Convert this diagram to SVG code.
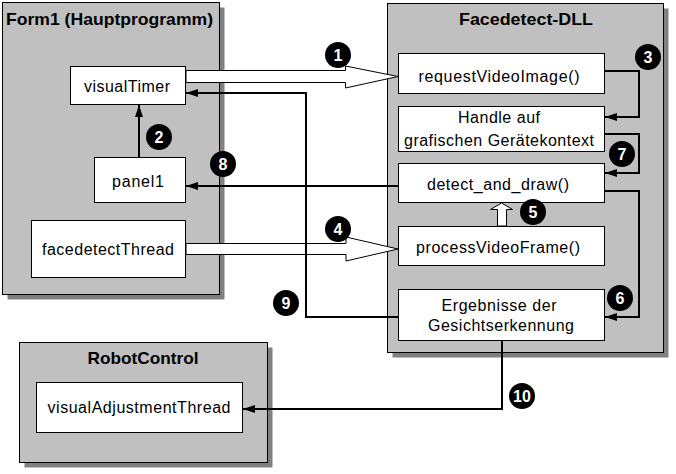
<svg xmlns="http://www.w3.org/2000/svg" width="676" height="474" viewBox="0 0 676 474">
<defs>
<marker id="ah" viewBox="0 0 12 8" refX="12" refY="4" markerWidth="12" markerHeight="8" markerUnits="userSpaceOnUse" orient="auto">
<polygon points="0,0 12,4 0,8" fill="#000"/>
</marker>
</defs>
<style>
.shadow{fill:#808080}
.cont{fill:#c0c0c0;stroke:#000;stroke-width:1}
.box{fill:#fff;stroke:#000;stroke-width:1}
.title{font-family:"Liberation Sans",Arial,sans-serif;font-size:17px;font-weight:bold;fill:#000}
.lbl{font-family:"Liberation Sans",Arial,sans-serif;font-size:16px;fill:#000;text-anchor:middle}
.conn{fill:none;stroke:#000;stroke-width:2;marker-end:url(#ah)}
.hollow{fill:#fff;stroke:#000;stroke-width:1}
.badge circle{fill:#000}
.badge text{font-family:"Liberation Sans",Arial,sans-serif;font-size:16px;font-weight:bold;fill:#fff;text-anchor:middle}
</style>
<rect width="676" height="474" fill="#fff"/>
<g id="form1">
<rect class="shadow" x="7.5" y="7.5" width="217" height="292"/>
<rect class="cont" x="2.5" y="2.5" width="217" height="292"/>
<text class="title" x="6" y="25" textLength="207" lengthAdjust="spacingAndGlyphs">Form1 (Hauptprogramm)</text>
</g>
<g id="visualTimer">
<rect class="box" x="70.5" y="66.5" width="115" height="38"/>
<text class="lbl" x="127" y="92" textLength="86" lengthAdjust="spacing">visualTimer</text>
</g>
<g id="panel1">
<rect class="box" x="94.5" y="157.5" width="91" height="45"/>
<text class="lbl" x="138" y="187" textLength="52" lengthAdjust="spacing">panel1</text>
</g>
<g id="facedetectThread">
<rect class="box" x="31.5" y="220.5" width="154" height="57"/>
<text class="lbl" x="108" y="255" textLength="132" lengthAdjust="spacing">facedetectThread</text>
</g>
<g id="facedetectDLL">
<rect class="shadow" x="392.5" y="8.5" width="276" height="349"/>
<rect class="cont" x="387.5" y="3.5" width="276" height="349"/>
<text class="title" x="526" y="25" text-anchor="middle" textLength="134" lengthAdjust="spacingAndGlyphs">Facedetect-DLL</text>
</g>
<g id="requestVideoImage">
<rect class="box" x="398.5" y="53.5" width="206" height="40"/>
<text class="lbl" x="499" y="82" textLength="161" lengthAdjust="spacing">requestVideoImage()</text>
</g>
<g id="handle">
<rect class="box" x="398.5" y="106.5" width="206" height="45"/>
<text class="lbl" x="499" y="123" textLength="82" lengthAdjust="spacing">Handle auf</text>
<text class="lbl" x="499" y="146" textLength="190" lengthAdjust="spacing">grafischen Gerätekontext</text>
</g>
<g id="detect_and_draw">
<rect class="box" x="398.5" y="163.5" width="206" height="39"/>
<text class="lbl" x="498" y="190" textLength="142" lengthAdjust="spacing">detect_and_draw()</text>
</g>
<g id="processVideoFrame">
<rect class="box" x="398.5" y="226.5" width="206" height="39"/>
<text class="lbl" x="498" y="253" textLength="164" lengthAdjust="spacing">processVideoFrame()</text>
</g>
<g id="ergebnisse">
<rect class="box" x="398.5" y="289.5" width="206" height="51"/>
<text class="lbl" x="499" y="311" textLength="115" lengthAdjust="spacing">Ergebnisse der</text>
<text class="lbl" x="501" y="331" textLength="146" lengthAdjust="spacing">Gesichtserkennung</text>
</g>
<g id="robotControl">
<rect class="shadow" x="24.5" y="347.5" width="248" height="120"/>
<rect class="cont" x="19.5" y="342.5" width="248" height="120"/>
<text class="title" x="143" y="364" text-anchor="middle" textLength="111" lengthAdjust="spacingAndGlyphs">RobotControl</text>
</g>
<g id="visualAdjustmentThread">
<rect class="box" x="36.5" y="382.5" width="206" height="50"/>
<text class="lbl" x="139" y="413" textLength="183" lengthAdjust="spacing">visualAdjustmentThread</text>
</g>
<g id="connectors">
<polygon class="hollow" points="186,70.5 345.5,70.5 345.5,66 398,76.5 345.5,88 345.5,82.5 186,82.5"/>
<polygon class="hollow" points="186,243.5 346,243.5 346,237 398,249 346,261 346,254.5 186,254.5"/>
<polygon class="hollow" points="497.5,226 497.5,209.5 490.5,209.5 501.5,203 512.5,209.5 506.5,209.5 506.5,226"/>
<path class="conn" d="M139,157 V105"/>
<path class="conn" d="M605,71 H639 V117 H605"/>
<path class="conn" d="M605,134 H639 V173 H605"/>
<path class="conn" d="M605,191 H639 V317 H605"/>
<path class="conn" d="M398,186 H186"/>
<path class="conn" d="M398,317 H306 V93 H186"/>
<path class="conn" d="M502,341 V409 H243"/>
</g>
<g id="badges" class="badge">
<circle cx="338" cy="55" r="13"/><text x="338" y="61">1</text>
<circle cx="159" cy="137" r="13"/><text x="159" y="143">2</text>
<circle cx="648" cy="57" r="13"/><text x="648" y="63">3</text>
<circle cx="338" cy="229" r="13"/><text x="338" y="235">4</text>
<circle cx="533" cy="212" r="13"/><text x="533" y="218">5</text>
<circle cx="620" cy="298" r="13"/><text x="620" y="304">6</text>
<circle cx="622" cy="154" r="13"/><text x="622" y="160">7</text>
<circle cx="223" cy="164" r="13"/><text x="223" y="170">8</text>
<circle cx="286" cy="303" r="13"/><text x="286" y="309">9</text>
<circle cx="522" cy="396" r="13"/><text x="522" y="402">10</text>
</g>
</svg>
